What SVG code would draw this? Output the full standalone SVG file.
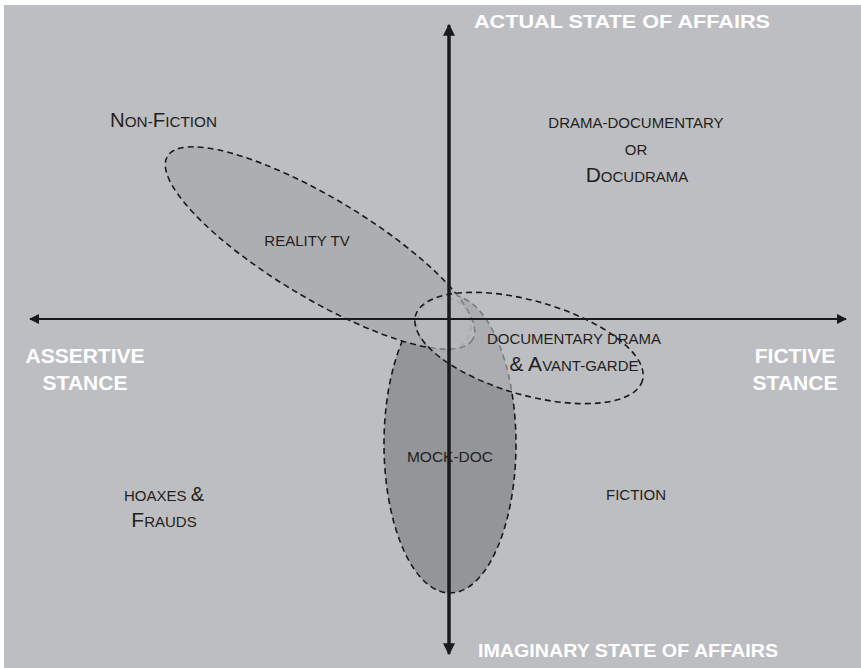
<svg xmlns="http://www.w3.org/2000/svg" width="861" height="668" viewBox="0 0 861 668">
<style>
.hd{font-family:"Liberation Sans",Arial,sans-serif;font-weight:bold;fill:#ffffff}
.lb{font-family:"Liberation Sans",Arial,sans-serif;fill:#231f20}
.dash{fill:none;stroke:#1a1a1a;stroke-width:1.6;stroke-dasharray:6 4}
.ax{stroke:#1a1a1a;fill:none}
</style>
<defs>
<marker id="ah" viewBox="0 0 10 10" refX="9" refY="5" markerWidth="10" markerHeight="10" markerUnits="userSpaceOnUse" orient="auto">
<path d="M0,0 L10,5 L0,10 z" fill="#1a1a1a"/>
</marker>
<marker id="ahv" viewBox="0 0 10 10" refX="9" refY="5" markerWidth="12" markerHeight="12" markerUnits="userSpaceOnUse" orient="auto">
<path d="M0,0 L10,5 L0,10 z" fill="#1a1a1a"/>
</marker>
</defs>
<rect x="0" y="0" width="861" height="668" fill="#ffffff"/>
<rect x="4" y="5" width="857" height="663" fill="#bdbec2"/>
<g id="regions">
<g id="mock-doc-region">
<ellipse cx="450" cy="444" rx="66" ry="149" fill="#949598"/>
<ellipse cx="450" cy="444" rx="66" ry="149" class="dash"/>
</g>
<g id="non-fiction-region">
<ellipse cx="320" cy="248" rx="178" ry="50" transform="rotate(31 320 248)" fill="#adaeb1"/>
<ellipse cx="320" cy="248" rx="178" ry="50" transform="rotate(31 320 248)" class="dash"/>
</g>
<g id="small-circle">
<circle cx="444" cy="325" r="27" fill="none" stroke="#8a8b8e" stroke-width="1.6" stroke-dasharray="6 4"/>
</g>
<g id="docudrama-region">
<ellipse cx="529" cy="348" rx="118" ry="47" transform="rotate(16 529 348)" fill="#bdbec2" fill-opacity="0.6"/>
<ellipse cx="529" cy="348" rx="118" ry="47" transform="rotate(16 529 348)" class="dash"/>
</g>
</g>
<g id="connectors">
<line x1="449" y1="652" x2="449" y2="25" class="ax" stroke-width="3" marker-end="url(#ahv)"/>
<line x1="449" y1="30" x2="449" y2="654" class="ax" stroke-width="3" marker-end="url(#ahv)"/>
<line x1="840" y1="319" x2="30" y2="319" class="ax" stroke-width="2" marker-end="url(#ah)"/>
<line x1="35" y1="319" x2="846" y2="319" class="ax" stroke-width="2" marker-end="url(#ah)"/>
</g>
<g id="axis-labels">
<text class="hd" x="474" y="28" font-size="17.5" textLength="296" lengthAdjust="spacingAndGlyphs">ACTUAL STATE OF AFFAIRS</text>
<text class="hd" x="478" y="657" font-size="19" textLength="300" lengthAdjust="spacingAndGlyphs">IMAGINARY STATE OF AFFAIRS</text>
<text class="hd" x="85" y="363" font-size="21" text-anchor="middle">ASSERTIVE</text>
<text class="hd" x="85" y="390" font-size="21" text-anchor="middle">STANCE</text>
<text class="hd" x="795" y="363" font-size="21" text-anchor="middle">FICTIVE</text>
<text class="hd" x="795" y="390" font-size="21" text-anchor="middle">STANCE</text>
</g>
<g id="non-fiction">
<text class="lb" x="110" y="127" font-size="20" textLength="107" lengthAdjust="spacingAndGlyphs">N<tspan font-size="15">ON-</tspan>F<tspan font-size="15">ICTION</tspan></text>
</g>
<g id="docudrama">
<text class="lb" x="636" y="128" font-size="15" text-anchor="middle">DRAMA-DOCUMENTARY</text>
<text class="lb" x="636" y="155" font-size="15" text-anchor="middle">OR</text>
<text class="lb" x="637" y="182" font-size="21" text-anchor="middle">D<tspan font-size="15">OCUDRAMA</tspan></text>
</g>
<g id="reality-tv">
<text class="lb" x="307" y="246" font-size="15" text-anchor="middle">REALITY TV</text>
</g>
<g id="documentary-drama">
<text class="lb" x="574" y="344" font-size="15" text-anchor="middle">DOCUMENTARY DRAMA</text>
<text class="lb" x="574" y="371" font-size="21" text-anchor="middle">&amp; A<tspan font-size="15">VANT-GARDE</tspan></text>
</g>
<g id="mock-doc">
<text class="lb" x="450" y="462" font-size="15.5" text-anchor="middle">MOCK-DOC</text>
</g>
<g id="hoaxes">
<text class="lb" x="164" y="501" font-size="15" text-anchor="middle">HOAXES <tspan font-size="20">&amp;</tspan></text>
<text class="lb" x="164" y="527" font-size="21" text-anchor="middle">F<tspan font-size="15">RAUDS</tspan></text>
</g>
<g id="fiction">
<text class="lb" x="636" y="500" font-size="15" text-anchor="middle">FICTION</text>
</g>
</svg>
